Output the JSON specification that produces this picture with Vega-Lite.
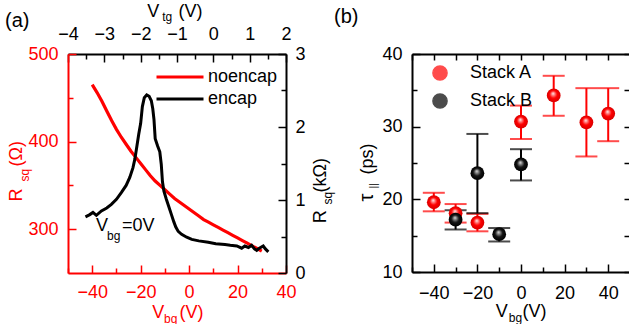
{
  "$schema": "https://vega.github.io/schema/vega-lite/v6.json",
  "background": "white",
  "padding": {"left": 5, "top": 2, "right": 0, "bottom": 0},
  "config": {
    "font": "Liberation Sans",
    "view": {"stroke": null},
    "axis": {
      "grid": false,
      "labelFont": "Liberation Sans",
      "labelFontSize": 18,
      "titleFont": "Liberation Sans",
      "titleFontSize": 18,
      "titleFontWeight": "normal",
      "labelColor": "#000000",
      "titleColor": "#000000",
      "tickColor": "#000000",
      "domainColor": "#000000",
      "domainWidth": 2,
      "tickWidth": 1.5,
      "labelFlush": false,
      "labelOverlap": false,
      "titlePadding": 0
    },
    "legend": {"labelFont": "Liberation Sans", "labelFontSize": 18, "labelColor": "#000000", "padding": 0},
    "title": {"font": "Liberation Sans", "fontSize": 20, "fontWeight": "normal", "color": "#000000"}
  },
  "datasets": {
    "noencap": [
      {"vbg": -40, "r": 465}, {"vbg": -38, "r": 456}, {"vbg": -36, "r": 446}, {"vbg": -34, "r": 435},
      {"vbg": -32, "r": 424}, {"vbg": -30, "r": 414}, {"vbg": -28, "r": 405}, {"vbg": -26, "r": 397},
      {"vbg": -24, "r": 389}, {"vbg": -22, "r": 382}, {"vbg": -20, "r": 375}, {"vbg": -18, "r": 368},
      {"vbg": -16, "r": 361}, {"vbg": -14, "r": 355}, {"vbg": -12, "r": 350}, {"vbg": -10, "r": 345},
      {"vbg": -8, "r": 340}, {"vbg": -6, "r": 335}, {"vbg": -4, "r": 331}, {"vbg": -2, "r": 327},
      {"vbg": 0, "r": 323}, {"vbg": 2, "r": 319}, {"vbg": 4, "r": 315}, {"vbg": 6, "r": 311},
      {"vbg": 8, "r": 308}, {"vbg": 10, "r": 305}, {"vbg": 12, "r": 302}, {"vbg": 14, "r": 299},
      {"vbg": 16, "r": 296}, {"vbg": 18, "r": 293}, {"vbg": 20, "r": 290}, {"vbg": 22, "r": 287},
      {"vbg": 24, "r": 284}, {"vbg": 26, "r": 281}, {"vbg": 28, "r": 278}, {"vbg": 30, "r": 275}
    ],
    "encap": [
      {"vbg": -42.8, "r": 0.77}, {"vbg": -41, "r": 0.8}, {"vbg": -39.7, "r": 0.83}, {"vbg": -38.3, "r": 0.79},
      {"vbg": -36.2, "r": 0.85}, {"vbg": -34, "r": 0.89}, {"vbg": -32.1, "r": 0.94}, {"vbg": -30, "r": 1.01},
      {"vbg": -28, "r": 1.1}, {"vbg": -26, "r": 1.2}, {"vbg": -24.5, "r": 1.31}, {"vbg": -23.2, "r": 1.44},
      {"vbg": -22.4, "r": 1.56}, {"vbg": -21.5, "r": 1.75}, {"vbg": -20.8, "r": 1.9}, {"vbg": -20, "r": 2.05},
      {"vbg": -19.3, "r": 2.28}, {"vbg": -18.5, "r": 2.4}, {"vbg": -17.5, "r": 2.44}, {"vbg": -16.5, "r": 2.42},
      {"vbg": -15.6, "r": 2.36}, {"vbg": -15, "r": 2.25}, {"vbg": -14.5, "r": 2.1}, {"vbg": -14, "r": 1.84},
      {"vbg": -13, "r": 1.74}, {"vbg": -12.1, "r": 1.66}, {"vbg": -11.5, "r": 1.49}, {"vbg": -11, "r": 1.25},
      {"vbg": -10.4, "r": 1.12}, {"vbg": -9.4, "r": 1.01}, {"vbg": -8.3, "r": 0.9}, {"vbg": -7.3, "r": 0.8},
      {"vbg": -6.3, "r": 0.7}, {"vbg": -5.5, "r": 0.63}, {"vbg": -4.5, "r": 0.57}, {"vbg": -3.1, "r": 0.53},
      {"vbg": -1, "r": 0.49}, {"vbg": 1.1, "r": 0.46}, {"vbg": 4, "r": 0.44}, {"vbg": 7.9, "r": 0.42},
      {"vbg": 11, "r": 0.4}, {"vbg": 14.8, "r": 0.39}, {"vbg": 17, "r": 0.38}, {"vbg": 19.7, "r": 0.37},
      {"vbg": 21.7, "r": 0.34}, {"vbg": 23, "r": 0.37}, {"vbg": 24.5, "r": 0.35}, {"vbg": 25.8, "r": 0.38},
      {"vbg": 27, "r": 0.33}, {"vbg": 27.9, "r": 0.31}, {"vbg": 29, "r": 0.34}, {"vbg": 30.6, "r": 0.37},
      {"vbg": 31.5, "r": 0.33}, {"vbg": 32.7, "r": 0.29}
    ],
    "frameA": [{"vtg": -4, "r_ohm": 250, "r_kohm": 0}],
    "gateNote": [{"vbg": -38.4, "r": 304}],
    "tau": [
      {"stack": "Stack A", "vbg": -40, "tau": 19.6, "lo": 18.35, "hi": 20.9},
      {"stack": "Stack A", "vbg": -30, "tau": 18.1, "lo": 16.8, "hi": 19.35},
      {"stack": "Stack A", "vbg": -20, "tau": 16.8, "lo": 15.6, "hi": 18.0},
      {"stack": "Stack A", "vbg": 0, "tau": 30.7, "lo": 28.3, "hi": 32.9},
      {"stack": "Stack A", "vbg": 15, "tau": 34.3, "lo": 31.5, "hi": 37.0},
      {"stack": "Stack A", "vbg": 30, "tau": 30.6, "lo": 25.9, "hi": 35.3},
      {"stack": "Stack A", "vbg": 40, "tau": 31.8, "lo": 28.0, "hi": 35.3},
      {"stack": "Stack B", "vbg": -30, "tau": 17.2, "lo": 15.85, "hi": 18.5},
      {"stack": "Stack B", "vbg": -20, "tau": 23.6, "lo": 18.1, "hi": 29.0},
      {"stack": "Stack B", "vbg": -10, "tau": 15.2, "lo": 14.2, "hi": 16.05},
      {"stack": "Stack B", "vbg": 0, "tau": 24.8, "lo": 22.6, "hi": 26.9}
    ]
  },
  "bounds": "flush",
  "spacing": 126,
  "resolve": {"scale": {"color": "independent"}, "legend": {"color": "independent"}},
  "hconcat": [
    {
      "width": 218,
      "height": 219,
      "title": {"text": "(a)", "anchor": "start", "frame": "group", "dx": -63, "dy": 28, "offset": 0},
      "resolve": {"scale": {"x": "independent", "y": "independent"}, "axis": {"x": "independent", "y": "independent"}},
      "layer": [
        {
          "data": {"name": "noencap"},
          "mark": {"type": "line", "strokeWidth": 3.2},
          "encoding": {
            "x": {"field": "vbg", "type": "quantitative", "scale": {"domain": [-50, 40], "nice": false, "zero": false},
              "axis": {"orient": "bottom", "values": [-40, -20, 0, 20, 40], "tickSize": -8, "labelPadding": 18,
                "domainColor": "#ff0000", "tickColor": "#ff0000", "labelColor": "#ff0000", "titleColor": "#ff0000",
                "title": "V", "titleX": 83.7, "titleY": 44.7, "titleAlign": "left", "titleBaseline": "alphabetic"}},
            "y": {"field": "r", "type": "quantitative", "scale": {"domain": [250, 500], "nice": false, "zero": false},
              "axis": {"orient": "left", "values": [300, 400, 500], "tickSize": -8, "labelPadding": 18,
                "domainColor": "#ff0000", "tickColor": "#ff0000", "labelColor": "#ff0000", "titleColor": "#ff0000",
                "title": "R", "titleAngle": 270, "titleX": -47, "titleY": 147, "titleAlign": "left", "titleBaseline": "alphabetic"}},
            "color": {"datum": "noencap", "type": "nominal",
              "scale": {"domain": ["noencap", "encap"], "range": ["#ff0000", "#000000"]},
              "legend": {"orient": "none", "legendX": 103, "legendY": 14, "title": null, "symbolType": "M-4.7,0H4.7",
                "symbolSize": 100, "symbolStrokeWidth": 3, "labelOffset": 19, "rowPadding": 4}}
          }
        },
        {
          "data": {"name": "encap"},
          "mark": {"type": "line", "strokeWidth": 3},
          "encoding": {
            "x": {"field": "vbg", "type": "quantitative", "scale": {"domain": [-50, 40], "nice": false, "zero": false},
              "axis": {"orient": "bottom", "values": [-50, -30, -10, 10, 30], "tickSize": -5, "labels": false, "domain": false,
                "tickColor": "#ff0000", "titleColor": "#ff0000", "title": "bg", "titleFontSize": 12,
                "titleX": 95.5, "titleY": 49, "titleAlign": "left", "titleBaseline": "alphabetic"}},
            "y": {"field": "r", "type": "quantitative", "scale": {"domain": [0, 3], "nice": false, "zero": false},
              "axis": {"orient": "right", "values": [0, 1, 2, 3], "tickSize": -8, "labelPadding": 17,
                "title": "R", "titleAngle": 270, "titleX": 39, "titleY": 168.7, "titleAlign": "left", "titleBaseline": "alphabetic"}},
            "color": {"datum": "encap", "type": "nominal"}
          }
        },
        {
          "data": {"name": "frameA"},
          "mark": {"type": "point", "opacity": 0},
          "encoding": {
            "x": {"field": "vtg", "type": "quantitative", "scale": {"domain": [-4, 2], "nice": false, "zero": false},
              "axis": {"orient": "top", "values": [-4, -3, -2, -1, 0, 1, 2], "tickSize": -8, "labelPadding": 19,
                "title": "V", "titleX": 78.7, "titleY": -37.3, "titleAlign": "left", "titleBaseline": "alphabetic"}},
            "y": {"field": "r_ohm", "type": "quantitative", "scale": {"domain": [250, 500], "nice": false, "zero": false},
              "axis": {"orient": "left", "values": [350, 450], "tickSize": -5, "labels": false, "domain": false,
                "tickColor": "#ff0000", "titleColor": "#ff0000", "title": "sq", "titleFontSize": 12,
                "titleAngle": 270, "titleX": -40, "titleY": 127, "titleAlign": "left", "titleBaseline": "alphabetic"}}
          }
        },
        {
          "data": {"name": "frameA"},
          "mark": {"type": "point", "opacity": 0},
          "encoding": {
            "x": {"field": "vtg", "type": "quantitative", "scale": {"domain": [-4, 2], "nice": false, "zero": false},
              "axis": {"orient": "top", "values": [-3.5, -2.5, -1.5, -0.5, 0.5, 1.5], "tickSize": -5, "labels": false, "domain": false,
                "title": "tg", "titleFontSize": 12, "titleX": 93.7, "titleY": -33.5, "titleAlign": "left", "titleBaseline": "alphabetic"}},
            "y": {"field": "r_kohm", "type": "quantitative", "scale": {"domain": [0, 3], "nice": false, "zero": false},
              "axis": {"orient": "right", "values": [0.5, 1.5, 2.5], "tickSize": -5, "labels": false, "domain": false,
                "title": "sq", "titleFontSize": 12, "titleAngle": 270, "titleX": 45, "titleY": 150, "titleAlign": "left", "titleBaseline": "alphabetic"}}
          }
        },
        {
          "data": {"name": "gateNote"},
          "mark": {"type": "text", "text": "V", "align": "left", "baseline": "middle", "fontSize": 18},
          "encoding": {
            "x": {"field": "vbg", "type": "quantitative", "scale": {"domain": [-50, 40], "nice": false, "zero": false},
              "axis": {"orient": "bottom", "ticks": false, "labels": false, "domain": false, "titleColor": "#ff0000",
                "title": "(V)", "titleX": 111, "titleY": 44.7, "titleAlign": "left", "titleBaseline": "alphabetic"}},
            "y": {"field": "r", "type": "quantitative", "scale": {"domain": [250, 500], "nice": false, "zero": false},
              "axis": {"orient": "left", "ticks": false, "labels": false, "domain": false, "titleColor": "#ff0000",
                "title": "(\u03a9)", "titleAngle": 270, "titleX": -47, "titleY": 112, "titleAlign": "left", "titleBaseline": "alphabetic"}}
          }
        },
        {
          "data": {"name": "gateNote"},
          "mark": {"type": "text", "text": "bg", "align": "left", "baseline": "middle", "fontSize": 12, "dx": 11, "dy": 10},
          "encoding": {
            "x": {"field": "vbg", "type": "quantitative", "scale": {"domain": [-50, 40], "nice": false, "zero": false},
              "axis": {"orient": "top", "ticks": false, "labels": false, "domain": false,
                "title": "(V)", "titleX": 110, "titleY": -37.3, "titleAlign": "left", "titleBaseline": "alphabetic"}},
            "y": {"field": "r", "type": "quantitative", "scale": {"domain": [250, 500], "nice": false, "zero": false},
              "axis": {"orient": "right", "ticks": false, "labels": false, "domain": false,
                "title": "(k\u03a9)", "titleAngle": 270, "titleX": 39, "titleY": 138, "titleAlign": "left", "titleBaseline": "alphabetic"}}
          }
        },
        {
          "data": {"name": "gateNote"},
          "mark": {"type": "text", "text": "=0V", "align": "left", "baseline": "middle", "fontSize": 18, "dx": 26},
          "encoding": {
            "x": {"field": "vbg", "type": "quantitative", "scale": {"domain": [-50, 40], "nice": false, "zero": false}, "axis": null},
            "y": {"field": "r", "type": "quantitative", "scale": {"domain": [250, 500], "nice": false, "zero": false}, "axis": null}
          }
        }
      ]
    },
    {
      "width": 218,
      "height": 218,
      "title": {"text": "(b)", "anchor": "start", "frame": "group", "dx": -78, "dy": -18, "offset": 0},
      "data": {"name": "tau"},
      "resolve": {"axis": {"x": "independent", "y": "independent"}},
      "layer": [
        {
          "mark": {"type": "rule", "strokeWidth": 2},
          "encoding": {
            "x": {"field": "vbg", "type": "quantitative", "scale": {"domain": [-50, 50], "nice": false, "zero": false},
              "axis": {"orient": "bottom", "values": [-40, -20, 0, 20, 40], "tickSize": -8, "labelPadding": 20,
                "title": "V", "titleX": 83.3, "titleY": 44, "titleAlign": "left", "titleBaseline": "alphabetic"}},
            "y": {"field": "lo", "type": "quantitative", "scale": {"domain": [10, 40], "nice": false, "zero": false},
              "axis": {"orient": "left", "values": [10, 20, 30, 40], "tickSize": -8, "labelPadding": 18,
                "title": "\u03c4", "titleFontSize": 20, "titleAngle": 270, "titleX": -40, "titleY": 147, "titleAlign": "left", "titleBaseline": "alphabetic"}},
            "y2": {"field": "hi"},
            "color": {"field": "stack", "type": "nominal", "scale": {"domain": ["Stack A", "Stack B"], "range": ["#ff0000", "#000000"]},
              "legend": {"orient": "none", "legendX": 19, "legendY": 10, "title": null, "symbolType": "circle",
                "symbolSize": 200, "symbolOpacity": 1, "labelOffset": 21, "rowPadding": 6}}
          }
        },
        {
          "mark": {"type": "tick", "orient": "horizontal", "size": 22, "thickness": 2},
          "encoding": {
            "x": {"field": "vbg", "type": "quantitative", "scale": {"domain": [-50, 50], "nice": false, "zero": false},
              "axis": {"orient": "bottom", "values": [-50, -30, -10, 10, 30, 50], "tickSize": -5, "labels": false, "domain": false,
                "title": "bg", "titleFontSize": 12, "titleX": 96.3, "titleY": 49, "titleAlign": "left", "titleBaseline": "alphabetic"}},
            "y": {"field": "hi", "type": "quantitative", "scale": {"domain": [10, 40], "nice": false, "zero": false},
              "axis": {"orient": "left", "values": [15, 25, 35], "tickSize": -5, "labels": false, "domain": false,
                "title": "||", "titleFontSize": 11, "titleAngle": 270, "titleX": -36, "titleY": 134, "titleAlign": "left", "titleBaseline": "alphabetic"}},
            "color": {"field": "stack", "type": "nominal"}
          }
        },
        {
          "mark": {"type": "tick", "orient": "horizontal", "size": 22, "thickness": 2},
          "encoding": {
            "x": {"field": "vbg", "type": "quantitative", "scale": {"domain": [-50, 50], "nice": false, "zero": false},
              "axis": {"orient": "top", "values": [-50, -40, -30, -20, -10, 0, 10, 20, 30, 40, 50], "tickSize": -6, "labels": false, "title": null}},
            "y": {"field": "lo", "type": "quantitative", "scale": {"domain": [10, 40], "nice": false, "zero": false},
              "axis": {"orient": "right", "values": [10, 15, 20, 25, 30, 35, 40], "tickSize": -6, "labels": false, "title": null}},
            "color": {"field": "stack", "type": "nominal"}
          }
        },
        {
          "transform": [{"filter": "datum.stack === 'Stack A'"}],
          "mark": {"type": "circle", "size": 190, "opacity": 1, "strokeWidth": 0,
            "fill": {"gradient": "radial", "x1": 0.45, "y1": 0.35, "r1": 0, "x2": 0.5, "y2": 0.5, "r2": 0.5,
              "stops": [{"offset": 0, "color": "#ffffff"}, {"offset": 0.22, "color": "#ff8c8c"}, {"offset": 0.55, "color": "#ff0000"}, {"offset": 1, "color": "#d80000"}]}},
          "encoding": {
            "x": {"field": "vbg", "type": "quantitative", "scale": {"domain": [-50, 50], "nice": false, "zero": false},
              "axis": {"orient": "bottom", "ticks": false, "labels": false, "domain": false,
                "title": "(V)", "titleX": 110, "titleY": 44, "titleAlign": "left", "titleBaseline": "alphabetic"}},
            "y": {"field": "tau", "type": "quantitative", "scale": {"domain": [10, 40], "nice": false, "zero": false},
              "axis": {"orient": "left", "ticks": false, "labels": false, "domain": false,
                "title": "(ps)", "titleAngle": 270, "titleX": -40, "titleY": 120, "titleAlign": "left", "titleBaseline": "alphabetic"}}
          }
        },
        {
          "transform": [{"filter": "datum.stack === 'Stack B'"}],
          "mark": {"type": "circle", "size": 190, "opacity": 1, "strokeWidth": 0,
            "fill": {"gradient": "radial", "x1": 0.45, "y1": 0.35, "r1": 0, "x2": 0.5, "y2": 0.5, "r2": 0.5,
              "stops": [{"offset": 0, "color": "#e8e8e8"}, {"offset": 0.22, "color": "#8a8a8a"}, {"offset": 0.55, "color": "#141414"}, {"offset": 1, "color": "#000000"}]}},
          "encoding": {
            "x": {"field": "vbg", "type": "quantitative", "scale": {"domain": [-50, 50], "nice": false, "zero": false}, "axis": null},
            "y": {"field": "tau", "type": "quantitative", "scale": {"domain": [10, 40], "nice": false, "zero": false}, "axis": null}
          }
        }
      ]
    }
  ]
}
